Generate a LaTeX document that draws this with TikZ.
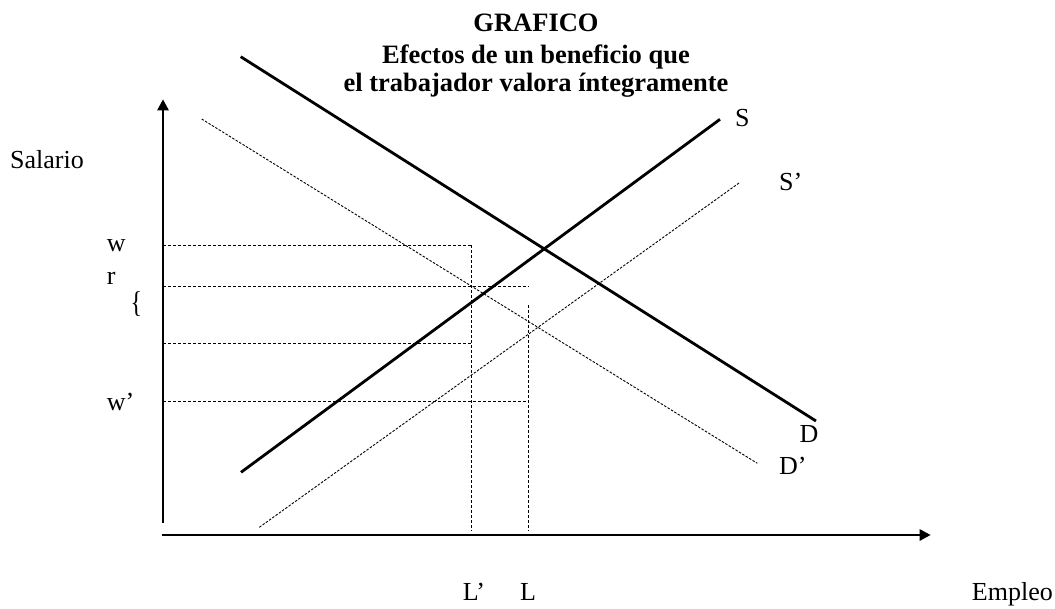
\documentclass[tikz,border=0pt]{standalone}
\usepackage{fontspec}
\setmainfont{Liberation Serif}
\usetikzlibrary{arrows.meta}
\begin{document}
\begin{tikzpicture}[x=1pt,y=-1pt,
  lbl/.style={anchor=base west,inner sep=0pt,font=\fontsize{26}{26}\selectfont},
  ttl/.style={anchor=base,inner sep=0pt,font=\fontsize{26.5}{26.5}\selectfont\bfseries},
  axisline/.style={line width=2.6pt,-{Triangle[length=11pt,width=11pt]}},
  curve/.style={line width=2.8pt},
  dcurve/.style={line width=0.9pt,dash pattern=on 2.5pt off 1.5pt},
  guide/.style={line width=1pt,dash pattern=on 3pt off 2pt}]
\useasboundingbox (0,0) rectangle (1055,608);
% title
\node[ttl] (t1) at (536,31.7) {GRAFICO};
\node[ttl] (t2) at (536,63.3) {Efectos de un beneficio que};
\node[ttl] (t3) at (536,91.7) {el trabajador valora íntegramente};
% axes
\coordinate (yb) at (163,523.3);
\coordinate (yt) at (163,99.3);
\coordinate (xl) at (162,535);
\coordinate (xr) at (930.7,535);
\draw[axisline] (yb) -- (yt);
\draw[axisline] (xl) -- (xr);
% curves
\coordinate (D1) at (240.7,56.7);
\coordinate (D2) at (816,421);
\coordinate (Dp1) at (201.7,119);
\coordinate (Dp2) at (757.3,463.3);
\coordinate (S1) at (241,472.3);
\coordinate (S2) at (720,119.3);
\coordinate (Sp1) at (259.3,527.3);
\coordinate (Sp2) at (739,183);
\draw[curve] (D1) -- (D2);
\draw[curve] (S1) -- (S2);
\draw[dcurve] (Dp1) -- (Dp2);
\draw[dcurve] (Sp1) -- (Sp2);
% guides
\coordinate (hw1) at (163,245);   \coordinate (hw2) at (471,245);
\coordinate (hr1) at (163,286);   \coordinate (hr2) at (528.3,286);
\coordinate (hm1) at (163,343.3); \coordinate (hm2) at (471,343.3);
\coordinate (hv1) at (163,401);   \coordinate (hv2) at (528.3,401);
\coordinate (vLp1) at (471,245);  \coordinate (vLp2) at (471,530.7);
\coordinate (vL1) at (528.3,305); \coordinate (vL2) at (528.3,530.7);
\draw[guide] (hw1) -- (hw2);
\draw[guide] (hr1) -- (hr2);
\draw[guide] (hm1) -- (hm2);
\draw[guide] (hv1) -- (hv2);
\draw[guide] (vLp1) -- (vLp2);
\draw[guide] (vL1) -- (vL2);
% labels
\node[lbl] (sal) at (10,168) {Salario};
\node[lbl] (lw) at (106.7,251.7) {w};
\node[lbl] (lr) at (106.7,284.3) {r};
\node[inner sep=0pt,font=\fontsize{24}{24}\selectfont,yscale=1.25] (br) at (136.5,304) {\{};
\node[lbl] (lwp) at (106.7,410) {w’};
\node[lbl] (lS) at (735,126) {S};
\node[lbl] (lSp) at (779,190) {S’};
\node[lbl] (lD) at (799.3,442.3) {D};
\node[lbl] (lDp) at (779,474) {D’};
\node[lbl] (lLp) at (462.7,600.7) {L’};
\node[lbl] (lL) at (520,600.7) {L};
\node[lbl] (emp) at (971.7,600.7) {Empleo};
\end{tikzpicture}
\end{document}
